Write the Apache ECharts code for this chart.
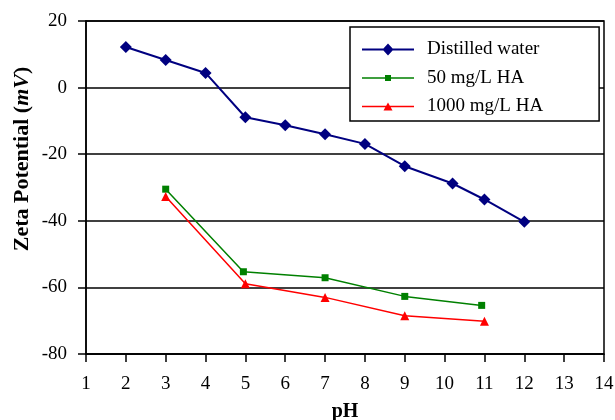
<!DOCTYPE html>
<html><head><meta charset="utf-8">
<script src="https://cdn.jsdelivr.net/npm/echarts@6/dist/echarts.min.js"></script>
<style>html,body{margin:0;padding:0;background:#fff}#c{width:615px;height:420px}</style>
</head><body><div id="c"></div>
<script>
const distilledPH = [2, 3, 4, 5, 6, 7, 8, 9, 10.2, 11, 12];
const distilledZeta = [12.2, 8.3, 4.4, -8.9, -11.3, -14.0, -16.9, -23.6, -28.8, -33.6, -40.3];
const ha50PH = [3, 4.95, 7, 9, 10.93];
const ha50Zeta = [-30.5, -55.3, -57.1, -62.7, -65.4];
const ha1000PH = [3, 5, 7, 9, 11];
const ha1000Zeta = [-32.7, -58.9, -63.0, -68.5, -70.2];
const seriesNames = ['Distilled water', '50 mg/L HA', '1000 mg/L HA'];
const yTitle = '{b|Zeta Potential (}{i|mV}{b|)}';
const xTitle = 'pH';

const zip = (a, b) => a.map((v, i) => [v, b[i]]);
const font = 'Liberation Serif';
const chart = echarts.init(document.getElementById('c'));
chart.setOption({
  animation: false,
  grid: { left: 86, right: 11, top: 21, bottom: 66, show: true, borderColor: '#000', borderWidth: 1.5,
          containLabel: false, outerBoundsMode: 'none' },
  xAxis: {
    type: 'value', min: 1, max: 14, interval: 1,
    name: xTitle, nameLocation: 'middle', nameGap: 48,
    nameTextStyle: { fontFamily: font, fontWeight: 'bold', fontSize: 20, color: '#000' },
    axisLine: { onZero: false, lineStyle: { color: '#000', width: 1.5 } },
    axisTick: { inside: false, length: 8, lineStyle: { color: '#000', width: 1.5 } },
    axisLabel: { fontFamily: font, fontSize: 19, color: '#000', margin: 21 },
    splitLine: { show: false }
  },
  yAxis: {
    type: 'value', min: -80, max: 20, interval: 20,
    axisLine: { show: true, lineStyle: { color: '#000', width: 1.5 } },
    axisTick: { show: true, inside: false, length: 8, lineStyle: { color: '#000', width: 1.5 } },
    axisLabel: { fontFamily: font, fontSize: 19, color: '#000', margin: 19 },
    splitLine: { show: true, lineStyle: { color: '#000', width: 1.5 } }
  },
  graphic: [{
    type: 'text', x: 22, y: 159, rotation: Math.PI / 2,
    style: {
      text: yTitle, align: 'center', verticalAlign: 'middle',
      rich: {
        b: { fontFamily: font, fontWeight: 'bold', fontSize: 22, fill: '#000' },
        i: { fontFamily: font, fontWeight: 'bold', fontStyle: 'italic', fontSize: 22, fill: '#000' }
      }
    }
  }],
  legend: {
    left: 350, top: 27, orient: 'vertical',
    backgroundColor: '#fff', borderColor: '#000', borderWidth: 1.5,
    padding: [13, 56, 5, 12], itemGap: 9.5, itemWidth: 52, itemHeight: 14,
    textStyle: { fontFamily: font, fontSize: 19, lineHeight: 19, color: '#000', padding: [0, 0, 0, 8] },
    data: [
      { name: seriesNames[0], icon: 'path://M0 6.5 L52 6.5 L52 8.5 L0 8.5 Z M26 1.5 L31.5 7.5 L26 13.5 L20.5 7.5 Z' },
      { name: seriesNames[1], icon: 'path://M0 6.25 L52 6.25 L52 7.75 L0 7.75 Z M23 4 L29 4 L29 10 L23 10 Z' },
      { name: seriesNames[2], icon: 'path://M0 6.25 L52 6.25 L52 7.75 L0 7.75 Z M26 3 L30.5 11 L21.5 11 Z' }
    ]
  },
  series: [
    { name: seriesNames[0], type: 'line', data: zip(distilledPH, distilledZeta), symbol: 'diamond', symbolSize: 12,
      itemStyle: { color: '#000080' }, lineStyle: { color: '#000080', width: 2 } },
    { name: seriesNames[1], type: 'line', data: zip(ha50PH, ha50Zeta), symbol: 'rect', symbolSize: 7,
      itemStyle: { color: '#008000' }, lineStyle: { color: '#008000', width: 1.5 } },
    { name: seriesNames[2], type: 'line', data: zip(ha1000PH, ha1000Zeta), symbol: 'triangle', symbolSize: 9,
      itemStyle: { color: '#ff0000' }, lineStyle: { color: '#ff0000', width: 1.5 } }
  ]
});
</script></body></html>
